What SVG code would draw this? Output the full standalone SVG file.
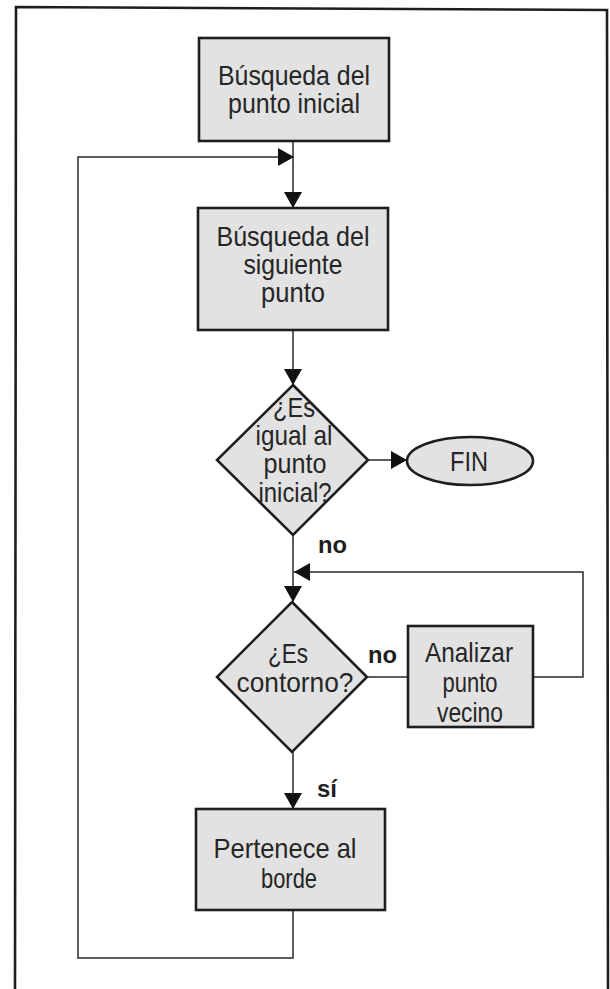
<svg xmlns="http://www.w3.org/2000/svg" width="610" height="989" viewBox="0 0 610 989">
<defs>
<style>
.frame{fill:none;stroke:#1e1e1e;stroke-width:2.6}
.node{fill:#e2e2e2;stroke:#1e1e1e;stroke-width:2.6}
.con{fill:none;stroke:#2a2a2a;stroke-width:1.5}
.t{font-family:"Liberation Sans","Helvetica",Arial,sans-serif;font-size:28px;fill:#262626;text-anchor:middle}
.lbl{font-family:"Liberation Sans","Helvetica",Arial,sans-serif;font-size:24px;font-weight:bold;fill:#1e1e1e}
</style>
<marker id="ah" markerUnits="userSpaceOnUse" markerWidth="16" markerHeight="18" refX="16" refY="9" orient="auto">
<path d="M0,0 L16,9 L0,18 z" fill="#111"/>
</marker>
</defs>
<rect x="0" y="0" width="610" height="989" fill="#ffffff"/>
<path class="frame" d="M15,989 L16,7 L607,10 L608,989"/>

<g id="connectors">
<path class="con" d="M293,141 L293,208" marker-end="url(#ah)"/>
<path class="con" d="M293,330 L293,385" marker-end="url(#ah)"/>
<path class="con" d="M368,460 L407,460" marker-end="url(#ah)"/>
<path class="con" d="M293,535 L293,602" marker-end="url(#ah)"/>
<path class="con" d="M367,677 L408,677"/>
<path class="con" d="M533,677 L583,677 L583,572 L294,572" marker-end="url(#ah)"/>
<path class="con" d="M293,752 L293,809" marker-end="url(#ah)"/>
<path class="con" d="M293,910 L293,958 L78,958 L78,157 L294,157" marker-end="url(#ah)"/>
</g>

<g id="n1">
<rect class="node" x="199" y="38" width="190" height="103"/>
<text class="t" x="294" y="85" textLength="152" lengthAdjust="spacingAndGlyphs">Búsqueda del</text>
<text class="t" x="294" y="113" textLength="132" lengthAdjust="spacingAndGlyphs">punto inicial</text>
</g>

<g id="n2">
<rect class="node" x="198" y="208" width="190" height="122"/>
<text class="t" x="293" y="246" textLength="153" lengthAdjust="spacingAndGlyphs">Búsqueda del</text>
<text class="t" x="293" y="274" textLength="99" lengthAdjust="spacingAndGlyphs">siguiente</text>
<text class="t" x="293" y="302" textLength="64" lengthAdjust="spacingAndGlyphs">punto</text>
</g>

<g id="d1">
<polygon class="node" points="293,385 368,460 293,535 217,460"/>
<text class="t" x="294" y="417" textLength="42" lengthAdjust="spacingAndGlyphs">¿Es</text>
<text class="t" x="294" y="445" textLength="77" lengthAdjust="spacingAndGlyphs">igual al</text>
<text class="t" x="295" y="473" textLength="63" lengthAdjust="spacingAndGlyphs">punto</text>
<text class="t" x="295" y="502" textLength="73" lengthAdjust="spacingAndGlyphs">inicial?</text>
</g>

<g id="fin">
<ellipse class="node" cx="470" cy="461" rx="63" ry="24"/>
<text class="t" x="469" y="471" textLength="38" lengthAdjust="spacingAndGlyphs">FIN</text>
</g>

<g id="d2">
<polygon class="node" points="292,602 367,677 292,752 217,677"/>
<text class="t" x="288" y="663" textLength="40" lengthAdjust="spacingAndGlyphs">¿Es</text>
<text class="t" x="295" y="692" textLength="117" lengthAdjust="spacingAndGlyphs">contorno?</text>
</g>

<g id="n3">
<rect class="node" x="408" y="626" width="125" height="101"/>
<text class="t" x="469" y="662" textLength="88" lengthAdjust="spacingAndGlyphs">Analizar</text>
<text class="t" x="470" y="692" textLength="55" lengthAdjust="spacingAndGlyphs">punto</text>
<text class="t" x="470" y="722" textLength="66" lengthAdjust="spacingAndGlyphs">vecino</text>
</g>

<g id="n4">
<rect class="node" x="196" y="809" width="189" height="101"/>
<text class="t" x="285" y="858" textLength="143" lengthAdjust="spacingAndGlyphs">Pertenece al</text>
<text class="t" x="289" y="888" textLength="56" lengthAdjust="spacingAndGlyphs">borde</text>
</g>

<g id="labels">
<text class="lbl" x="318" y="553" textLength="29" lengthAdjust="spacingAndGlyphs">no</text>
<text class="lbl" x="368" y="663" textLength="29" lengthAdjust="spacingAndGlyphs">no</text>
<text class="lbl" x="317" y="797" textLength="20" lengthAdjust="spacingAndGlyphs">sí</text>
</g>
</svg>
